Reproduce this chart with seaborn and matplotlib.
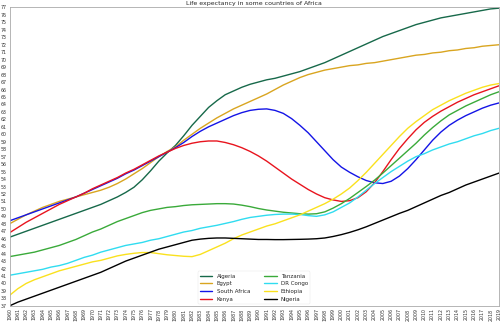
import matplotlib
matplotlib.use("Agg")
import matplotlib.pyplot as plt
import seaborn as sns
import pandas as pd

years = list(range(1960, 2020))

algeria = [46.2, 46.6, 47.0, 47.4, 47.8, 48.2, 48.6, 49.0, 49.4, 49.8,
           50.2, 50.6, 51.1, 51.6, 52.2, 52.9, 53.9, 55.1, 56.4, 57.5,
           58.5, 59.8, 61.2, 62.4, 63.6, 64.5, 65.3, 65.8, 66.3, 66.7,
           67.0, 67.3, 67.5, 67.8, 68.1, 68.4, 68.8, 69.2, 69.6, 70.1,
           70.6, 71.1, 71.6, 72.1, 72.6, 73.1, 73.5, 73.9, 74.3, 74.7,
           75.0, 75.3, 75.6, 75.8, 76.0, 76.2, 76.4, 76.6, 76.8, 76.9]

egypt = [48.0, 48.6, 49.2, 49.7, 50.2, 50.6, 51.0, 51.3, 51.6, 51.9,
         52.2, 52.5, 52.9, 53.4, 54.0, 54.7, 55.4, 56.2, 57.0, 57.7,
         58.3, 59.2, 60.0, 60.8, 61.5, 62.2, 62.8, 63.4, 63.9, 64.4,
         64.9, 65.4, 66.0, 66.6, 67.1, 67.6, 68.0, 68.3, 68.6, 68.8,
         69.0, 69.2, 69.3, 69.5, 69.6, 69.8, 70.0, 70.2, 70.4, 70.6,
         70.7, 70.9, 71.0, 71.2, 71.3, 71.5, 71.6, 71.8, 71.9, 72.0]

south_africa = [48.4, 48.8, 49.2, 49.6, 50.0, 50.4, 50.8, 51.2, 51.6, 52.1,
                52.6, 53.1, 53.6, 54.1, 54.7, 55.2, 55.8, 56.4, 57.0, 57.6,
                58.2, 58.9, 59.7, 60.4, 61.0, 61.5, 62.0, 62.5, 62.9, 63.2,
                63.35, 63.4, 63.2, 62.8, 62.1, 61.2, 60.2, 59.0, 57.8, 56.6,
                55.6, 54.9, 54.3, 53.8, 53.5, 53.4, 53.7, 54.4, 55.4, 56.6,
                57.9, 59.2, 60.3, 61.2, 61.9, 62.5, 63.0, 63.5, 63.9, 64.2]

kenya = [46.8, 47.5, 48.2, 48.8, 49.4, 50.0, 50.6, 51.1, 51.6, 52.1,
         52.7, 53.2, 53.7, 54.2, 54.8, 55.3, 55.9, 56.5, 57.1, 57.6,
         58.1, 58.5, 58.8, 59.0, 59.1, 59.1, 58.9, 58.6, 58.2, 57.7,
         57.1, 56.4, 55.6, 54.8, 54.0, 53.3, 52.6, 52.0, 51.5, 51.2,
         51.0, 51.1, 51.5, 52.3, 53.5, 55.0, 56.6, 58.1, 59.4, 60.6,
         61.6, 62.4, 63.1, 63.7, 64.3, 64.8, 65.3, 65.7, 66.1, 66.5]

tanzania = [43.6, 43.8, 44.0, 44.2, 44.5, 44.8, 45.1, 45.5, 45.9, 46.4,
            46.9, 47.3, 47.8, 48.3, 48.7, 49.1, 49.5, 49.8, 50.0, 50.2,
            50.3, 50.45, 50.55, 50.6, 50.65, 50.7, 50.7, 50.65, 50.5, 50.3,
            50.05, 49.85, 49.7, 49.55, 49.45, 49.35, 49.3, 49.35, 49.6, 50.1,
            50.7, 51.4, 52.2, 53.0, 53.85, 54.8, 55.8, 56.8, 57.8, 58.8,
            59.9, 60.9, 61.8, 62.6, 63.2, 63.8, 64.3, 64.8, 65.3, 65.7]

dr_congo = [41.1, 41.3, 41.5, 41.7, 41.9, 42.2, 42.4, 42.7, 43.1, 43.5,
            43.8, 44.2, 44.5, 44.8, 45.1, 45.3, 45.5, 45.8, 46.0, 46.3,
            46.6, 46.9, 47.1, 47.4, 47.6, 47.8, 48.05, 48.3, 48.6, 48.85,
            49.0, 49.15, 49.25, 49.3, 49.3, 49.25, 49.1, 49.0, 49.2, 49.6,
            50.2, 50.8, 51.6, 52.5, 53.4, 54.2, 55.0, 55.7, 56.4, 57.0,
            57.4, 57.9, 58.3, 58.7, 59.0, 59.4, 59.8, 60.1, 60.5, 60.8]

ethiopia = [38.4, 39.3, 40.0, 40.5, 40.9, 41.3, 41.7, 42.0, 42.3, 42.6,
            42.9, 43.1, 43.4, 43.7, 43.9, 44.05, 44.15, 44.15, 44.0, 43.85,
            43.75, 43.65, 43.6, 43.9, 44.4, 44.9, 45.4, 46.0, 46.5, 46.9,
            47.3, 47.7, 48.0, 48.4, 48.8, 49.2, 49.7, 50.2, 50.7, 51.3,
            52.0, 52.8, 53.8, 54.9, 56.1, 57.3, 58.5, 59.7, 60.8, 61.7,
            62.5, 63.3, 63.9, 64.5, 65.0, 65.5, 65.9, 66.3, 66.6, 66.8]

nigeria = [37.0, 37.5, 37.9, 38.3, 38.7, 39.1, 39.5, 39.9, 40.3, 40.7,
           41.1, 41.5, 42.0, 42.5, 43.0, 43.4, 43.8, 44.2, 44.6, 44.9,
           45.2, 45.5, 45.8, 45.95, 46.05, 46.1, 46.1, 46.05, 46.0, 45.95,
           45.9, 45.9, 45.88, 45.88, 45.9, 45.92, 45.95, 46.0, 46.1, 46.3,
           46.55, 46.85, 47.2, 47.6, 48.05, 48.5, 48.95, 49.4, 49.8, 50.3,
           50.8, 51.3, 51.8, 52.2, 52.7, 53.2, 53.6, 54.0, 54.4, 54.8]

countries = ["Algeria", "Egypt", "South Africa", "Kenya",
             "Tanzania", "DR Congo", "Ethiopia", "Nigeria"]
series = [algeria, egypt, south_africa, kenya, tanzania, dr_congo, ethiopia, nigeria]
colors = ["#17694a", "#d9a520", "#1414e6", "#e8141e",
          "#3aaa3a", "#30dcf0", "#fae11e", "#000000"]

df = pd.DataFrame({
    "Year": years * len(countries),
    "Life expectancy": [v for s in series for v in s],
    "Country": [c for c in countries for _ in years],
})

sns.set_style("white")
plt.rcParams["font.family"] = ["DejaVu Sans"]

fig = plt.figure(figsize=(5.0, 3.23), dpi=100)
ax = fig.add_axes([0.019, 0.053, 0.979, 0.924])

sns.lineplot(data=df, x="Year", y="Life expectancy", hue="Country",
             hue_order=countries, palette=colors, linewidth=1.0, ax=ax)

ax.set_xlim(1960, 2019)
ax.set_ylim(37, 77)
ax.set_xticks(years)
ax.set_xticklabels([str(y) for y in years], rotation=90, fontsize=3.4)
ax.set_yticks(range(37, 78))
ax.set_yticklabels([str(v) for v in range(37, 78)], fontsize=3.4)
ax.tick_params(axis="both", length=1.2, width=0.4, pad=0.6, colors="#333333")
ax.set_xlabel("")
ax.set_ylabel("")
for sp in ax.spines.values():
    sp.set_color("#aaaaaa")
    sp.set_linewidth(0.6)
ax.set_title("Life expectancy in some countries of Africa", fontsize=4.5, pad=1.5)

leg = ax.legend(loc="lower center", ncol=2, fontsize=4, frameon=True,
                handlelength=2.2, columnspacing=2.5, labelspacing=0.5,
                borderaxespad=0.3)
leg.get_frame().set_linewidth(0.3)
leg.get_frame().set_edgecolor("#dddddd")
for line in leg.get_lines():
    line.set_linewidth(1.0)

fig.savefig("out.png", dpi=100)
